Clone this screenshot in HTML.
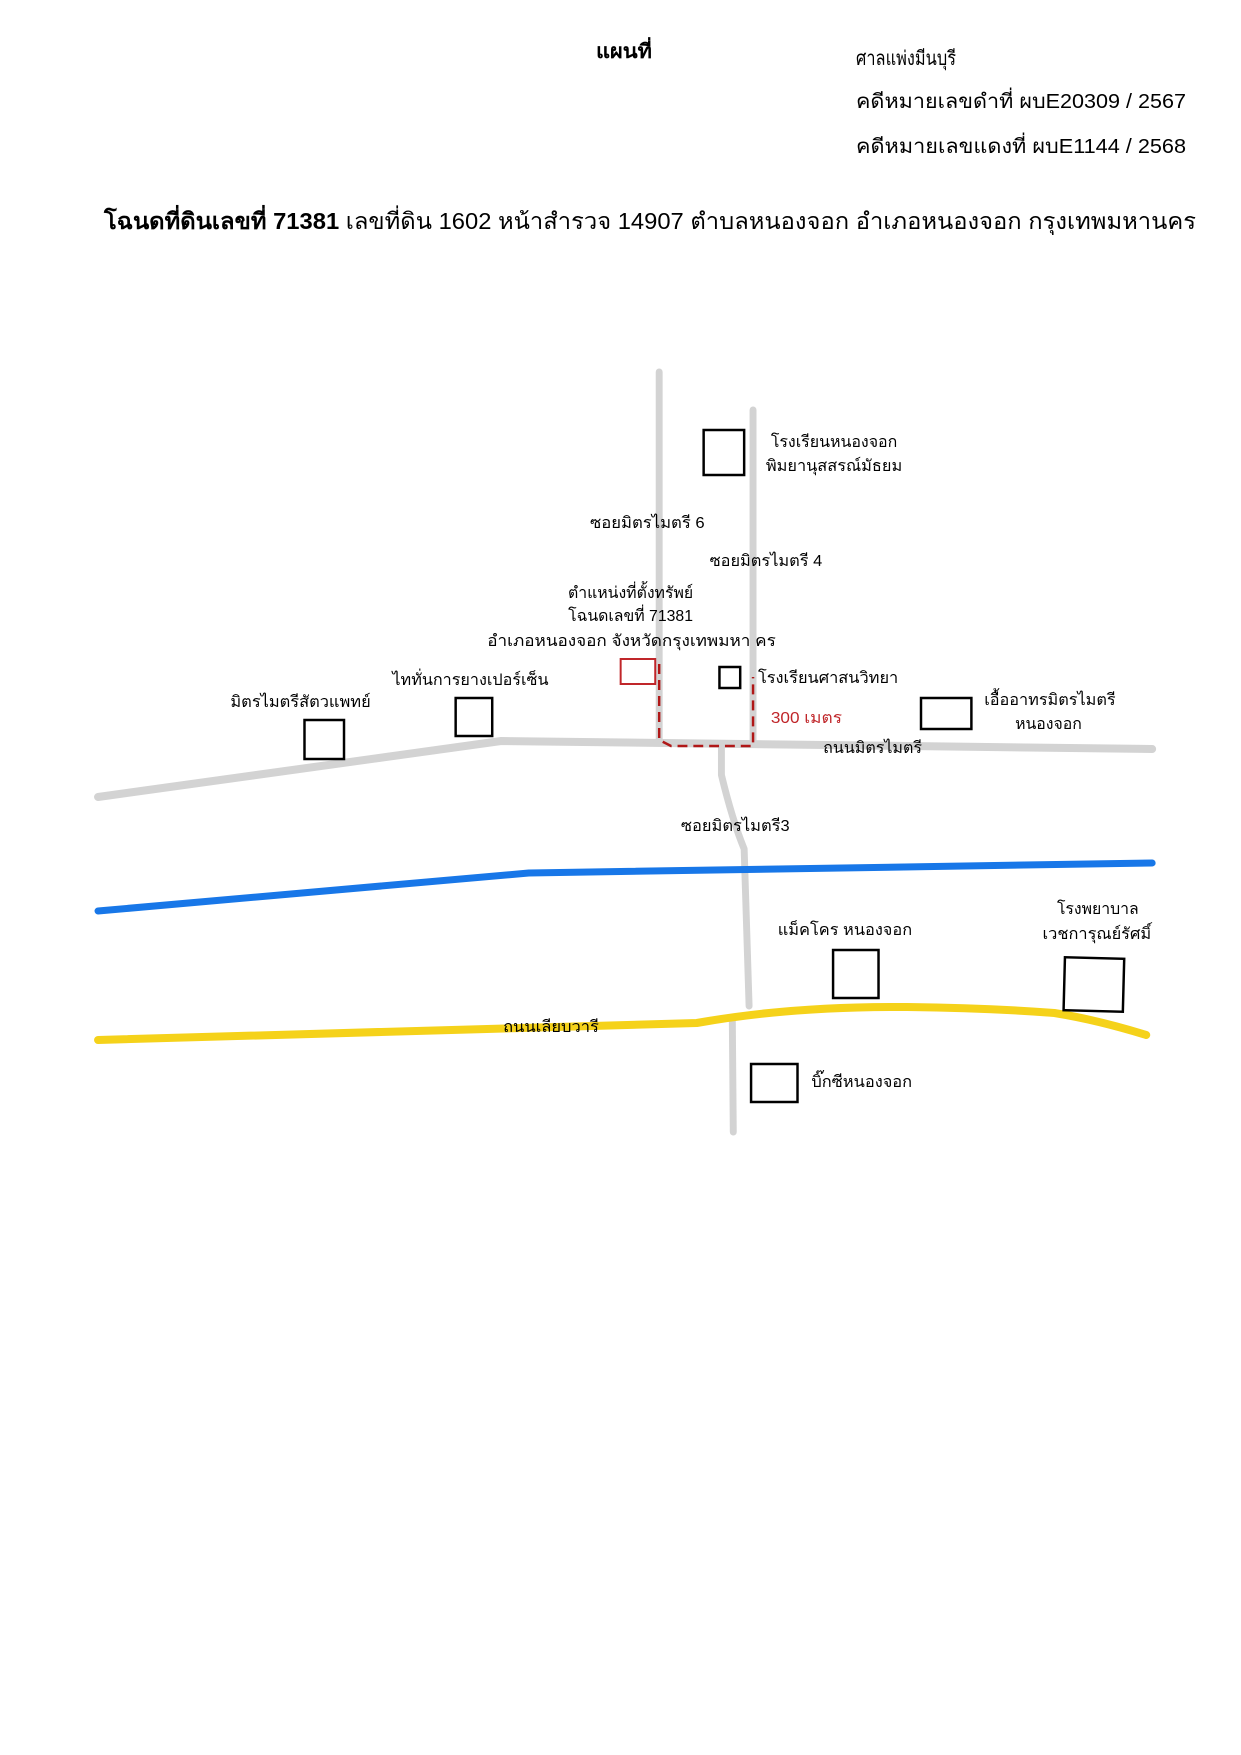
<!DOCTYPE html>
<html><head><meta charset="utf-8"><style>
html,body{margin:0;padding:0;background:#fff;}
svg{display:block;}
text{font-family:"Liberation Sans","DejaVu Sans",sans-serif;fill:#000;}
</style></head><body>
<svg width="1241" height="1755" viewBox="0 0 1241 1755" xmlns="http://www.w3.org/2000/svg">
<!-- header -->
<text x="596" y="58" font-size="20" font-weight="bold" textLength="56" lengthAdjust="spacingAndGlyphs">แผนที่</text>
<text x="856" y="65" font-size="20" textLength="100" lengthAdjust="spacingAndGlyphs">ศาลแพ่งมีนบุรี</text>
<text x="856" y="108" font-size="20" textLength="330" lengthAdjust="spacingAndGlyphs">คดีหมายเลขดำที่  ผบE20309 / 2567</text>
<text x="856" y="153" font-size="20" textLength="330" lengthAdjust="spacingAndGlyphs">คดีหมายเลขแดงที่ ผบE1144  / 2568</text>
<text x="104" y="229" font-size="23" textLength="1092" lengthAdjust="spacingAndGlyphs"><tspan font-weight="bold">โฉนดที่ดินเลขที่ 71381</tspan> เลขที่ดิน 1602 หน้าสำรวจ 14907 ตำบลหนองจอก อำเภอหนองจอก กรุงเทพมหานคร</text>

<g transform="translate(98,0) scale(0.988,1) translate(-98,0)">
<!-- roads -->
<g fill="none" stroke-linecap="round" stroke-linejoin="round">
<line x1="666" y1="372" x2="666" y2="742" stroke="#d3d3d3" stroke-width="7"/>
<line x1="761" y1="410" x2="761" y2="742" stroke="#d3d3d3" stroke-width="7"/>
<polyline points="98,797 506,741 1165,749" stroke="#d3d3d3" stroke-width="8"/>
<path d="M729,747 L729,775 Q740,820 752,849 L757,1006" stroke="#d3d3d3" stroke-width="7"/>
<line x1="740" y1="1018" x2="741" y2="1132" stroke="#d3d3d3" stroke-width="7"/>
<polyline points="98,911 534,873 1165,863" stroke="#1877e8" stroke-width="7"/>
<path d="M98,1040 L704,1023 Q800,1006 917,1007 Q1000,1008 1066,1013 Q1110,1020 1159,1035" stroke="#f5d21a" stroke-width="8"/>
<polyline points="666,664 666,740 678,746 761,746 761,677" stroke="#b01818" stroke-width="2.5" stroke-dasharray="10,6" stroke-linecap="butt"/>
</g>

<!-- boxes -->
<g fill="#fff" stroke="#000" stroke-width="2.5">
<rect x="711" y="430" width="41" height="45"/>
<rect x="727" y="667" width="21" height="21"/>
<rect x="460" y="698" width="37" height="38"/>
<rect x="307" y="720" width="40" height="39"/>
<rect x="931" y="698" width="51" height="31"/>
<rect x="842" y="950" width="46" height="48"/>
<rect x="1076" y="958" width="60" height="53" transform="rotate(1.5 1106 984)"/>
<rect x="759" y="1064" width="47" height="38"/>
</g>
<rect x="627" y="659" width="35" height="25" fill="#fff" stroke="#c0262a" stroke-width="2"/>

<!-- labels -->
<g font-size="16">
<text x="779" y="447" textLength="128" lengthAdjust="spacingAndGlyphs">โรงเรียนหนองจอก</text>
<text x="774" y="471" textLength="138" lengthAdjust="spacingAndGlyphs">พิมยานุสสรณ์มัธยม</text>
<text x="596" y="528" textLength="116" lengthAdjust="spacingAndGlyphs">ซอยมิตรไมตรี 6</text>
<text x="717" y="566" textLength="114" lengthAdjust="spacingAndGlyphs">ซอยมิตรไมตรี 4</text>
<text x="637" y="598" text-anchor="middle">ตำแหน่งที่ตั้งทรัพย์</text>
<text x="637" y="621" text-anchor="middle">โฉนดเลขที่ 71381</text>
<text x="492" y="646" textLength="292" lengthAdjust="spacingAndGlyphs">อำเภอหนองจอก จังหวัดกรุงเทพมหา คร</text>
<text x="396" y="685" textLength="158" lengthAdjust="spacingAndGlyphs">ไททั่นการยางเปอร์เซ็น</text>
<text x="232" y="707" textLength="142" lengthAdjust="spacingAndGlyphs">มิตรไมตรีสัตวแพทย์</text>
<text x="766" y="683" textLength="142" lengthAdjust="spacingAndGlyphs">โรงเรียนศาสนวิทยา</text>
<text x="779" y="723" style="fill:#c0262a" textLength="72" lengthAdjust="spacingAndGlyphs">300 เมตร</text>
<text x="995" y="705" textLength="133" lengthAdjust="spacingAndGlyphs">เอื้ออาทรมิตรไมตรี</text>
<text x="1060" y="729" text-anchor="middle">หนองจอก</text>
<text x="832" y="753" textLength="100" lengthAdjust="spacingAndGlyphs">ถนนมิตรไมตรี</text>
<text x="688" y="831" textLength="110" lengthAdjust="spacingAndGlyphs">ซอยมิตรไมตรี3</text>
<text x="786" y="935" textLength="136" lengthAdjust="spacingAndGlyphs">แม็คโคร หนองจอก</text>
<text x="1110" y="914" text-anchor="middle">โรงพยาบาล</text>
<text x="1054" y="939" textLength="110" lengthAdjust="spacingAndGlyphs">เวชการุณย์รัศมิ์</text>
<text x="508" y="1032" textLength="97" lengthAdjust="spacingAndGlyphs">ถนนเลียบวารี</text>
<text x="820" y="1087" textLength="102" lengthAdjust="spacingAndGlyphs">บิ๊กซีหนองจอก</text>
</g>
</g>
</svg>
</body></html>
